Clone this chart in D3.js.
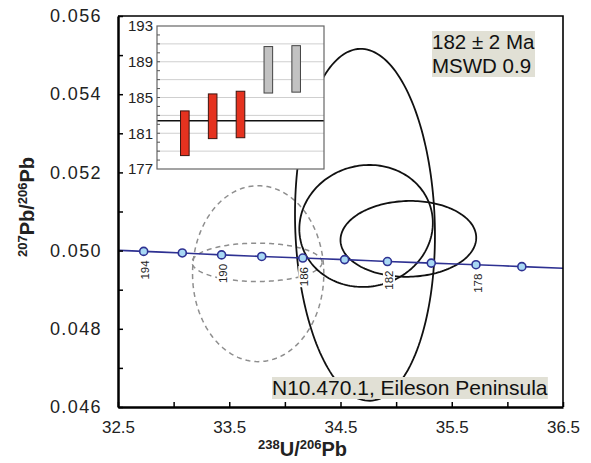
<!DOCTYPE html>
<html><head><meta charset="utf-8">
<script src="https://cdn.jsdelivr.net/npm/d3@7"></script>
<style>
html,body{margin:0;padding:0;background:#fff;}
svg{display:block;font-family:"Liberation Sans",Arial,Helvetica,sans-serif;}
</style></head><body>
<svg id="chart" width="591" height="463"></svg>
<script>
// ---- axes ----
const xDomain = [32.5, 36.5];
const yDomain = [0.046, 0.056];
const xTickValues = [32.5, 33, 33.5, 34, 34.5, 35, 35.5, 36, 36.5];
const xTickLabels = [32.5, 33.5, 34.5, 35.5, 36.5];
const yTickValues = [0.046, 0.047, 0.048, 0.049, 0.050, 0.051, 0.052, 0.053, 0.054, 0.055, 0.056];
const yTickLabels = [0.046, 0.048, 0.050, 0.052, 0.054, 0.056];

// ---- concordia (Tera-Wasserburg), age markers in Ma ----
const concordiaAges = [194, 192, 190, 188, 186, 184, 182, 180, 178, 176];
const concordiaX = [32.731, 33.078, 33.431, 33.792, 34.161, 34.537, 34.922, 35.316, 35.718, 36.130];
const concordiaY = [0.04998, 0.04994, 0.04989, 0.04985, 0.04981, 0.04977, 0.04972, 0.04968, 0.04964, 0.04959];
const concordiaLabelled = [194, 190, 186, 182, 178];
const concordiaEndX = [32.5, 36.5];
const concordiaEndY = [0.05001, 0.04955];

// ---- analyses: centre, 2-sigma half-widths, error correlation ----
const spotX   = [34.72, 34.73, 35.11, 33.76, 33.75];
const spotY   = [0.05066, 0.05063, 0.05030, 0.04941, 0.04970];
const spotErrX = [0.629, 0.60, 0.61, 0.59, 0.584];
const spotErrY = [0.00450, 0.00156, 0.00097, 0.00225, 0.00049];
const spotRho = [-0.06, 0.05, 0.03, 0.0, 0.0];
const spotUsed = [true, true, true, false, false];

// ---- inset: 206Pb/238U ages (Ma) with 2-sigma errors ----
const grainAge = [181.0, 182.9, 183.1, 188.1, 188.2];
const grainErr = [2.5, 2.5, 2.6, 2.6, 2.6];
const grainUsed = [true, true, true, false, false];
const meanAge = 182.4;
const insetDomain = [177, 193];
const insetLabels = [177, 181, 185, 189, 193];
const insetGrid = [179, 181, 183, 185, 187, 189, 191];
const insetMinor = [178, 179, 180, 181, 182, 183, 184, 185, 186, 187, 188, 189, 190, 191, 192];

const resultLines = ["182 \u00b1 2 Ma", "MSWD 0.9"];
const sampleLabel = "N10.470.1, Eileson Peninsula";

// ---------------------------------------------------------------
const svg = d3.select("#chart");
const P = {left: 118, top: 16, right: 563, bottom: 407};
const x = d3.scaleLinear().domain(xDomain).range([P.left, P.right]);
const y = d3.scaleLinear().domain(yDomain).range([P.bottom, P.top]);

svg.append("defs").append("clipPath").attr("id", "plotClip")
  .append("rect").attr("x", P.left).attr("y", P.top)
  .attr("width", P.right - P.left).attr("height", P.bottom - P.top);

const plot = svg.append("g").attr("clip-path", "url(#plotClip)");

// error ellipses
function ellipsePath(cx, cy, ex, ey, rho) {
  const s = Math.sqrt(1 - rho * rho);
  const pts = d3.range(0, 361, 2).map(d => {
    const t = d * Math.PI / 180;
    return [x(cx + ex * Math.cos(t)), y(cy + ey * (rho * Math.cos(t) + s * Math.sin(t)))];
  });
  return d3.line()(pts) + "Z";
}
const order = d3.range(spotX.length).sort((a, b) => (spotUsed[a] ? 1 : 0) - (spotUsed[b] ? 1 : 0));
plot.selectAll("path.ellipse").data(order).join("path")
  .attr("class", "ellipse")
  .attr("d", i => ellipsePath(spotX[i], spotY[i], spotErrX[i], spotErrY[i], spotRho[i]))
  .attr("fill", "none")
  .attr("stroke", i => spotUsed[i] ? "#111" : "#8e8e8e")
  .attr("stroke-width", i => spotUsed[i] ? 1.8 : 1.5)
  .attr("stroke-dasharray", i => spotUsed[i] ? null : "5,4");

// concordia curve
const curvePts = [[concordiaEndX[0], concordiaEndY[0]]]
  .concat(concordiaX.map((d, i) => [d, concordiaY[i]]))
  .concat([[concordiaEndX[1], concordiaEndY[1]]]);
plot.append("path")
  .attr("d", d3.line().x(d => x(d[0])).y(d => y(d[1])).curve(d3.curveMonotoneX)(curvePts))
  .attr("fill", "none").attr("stroke", "#2e3192").attr("stroke-width", 1.6);

plot.selectAll("circle.age").data(concordiaAges).join("circle")
  .attr("class", "age")
  .attr("cx", (d, i) => x(concordiaX[i])).attr("cy", (d, i) => y(concordiaY[i]))
  .attr("r", 4).attr("fill", "#a8d8f4").attr("stroke", "#2e3192").attr("stroke-width", 1.6);

// age labels, rotated, with white backing
concordiaAges.forEach((a, i) => {
  if (!concordiaLabelled.includes(a)) return;
  const g = plot.append("g")
    .attr("transform", `translate(${x(concordiaX[i]) + 1.5},${y(concordiaY[i]) + 9}) rotate(-90)`);
  const t = g.append("text").text(a)
    .attr("text-anchor", "end").attr("dominant-baseline", "central")
    .attr("font-size", 11.5).attr("fill", "#222");
  const b = t.node().getBBox();
  g.insert("rect", "text").attr("x", b.x - 1).attr("y", b.y).attr("width", b.width + 2)
    .attr("height", b.height).attr("fill", "#fff");
});

// ---- axes ----
const fmtX = d => xTickLabels.includes(d) ? d3.format(".1f")(d) : "";
const fmtY = d => yTickLabels.some(v => Math.abs(v - d) < 1e-9) ? d3.format(".3f")(d) : "";

const xAxis = svg.append("g").attr("transform", `translate(0,${P.bottom})`)
  .call(d3.axisBottom(x).tickValues(xTickValues).tickFormat(fmtX).tickSizeInner(-5).tickSizeOuter(0).tickPadding(14));
const yAxis = svg.append("g").attr("transform", `translate(${P.left},0)`)
  .call(d3.axisLeft(y).tickValues(yTickValues).tickFormat(fmtY).tickSizeInner(-5).tickSizeOuter(0).tickPadding(16));
[xAxis, yAxis].forEach(ax => {
  ax.select(".domain").attr("stroke", "#000").attr("stroke-width", 2.5);
  ax.selectAll(".tick line").attr("stroke", "#000").attr("stroke-width", 1.5);
  ax.selectAll(".tick text").attr("font-size", 17).attr("fill", "#222")
    .attr("font-family", "'Liberation Sans',Arial,sans-serif");
});
yAxis.selectAll(".tick text").attr("font-size", 18).attr("letter-spacing", 1.4);
// top and right frame
svg.append("path")
  .attr("d", `M${P.left},${P.top}H${P.right}V${P.bottom}`)
  .attr("fill", "none").attr("stroke", "#000").attr("stroke-width", 1.6);

// axis titles
const xt = svg.append("text").attr("x", (P.left + P.right) / 2 - 38).attr("y", 456)
  .attr("text-anchor", "middle").attr("font-weight", "bold").attr("fill", "#222");
xt.append("tspan").attr("font-size", 13).attr("dy", -7).text("238");
xt.append("tspan").attr("font-size", 20).attr("dy", 7).text("U/");
xt.append("tspan").attr("font-size", 13).attr("dy", -7).text("206");
xt.append("tspan").attr("font-size", 20).attr("dy", 7).text("Pb");

const yt = svg.append("text").attr("transform", "translate(34,207) rotate(-90)")
  .attr("text-anchor", "middle").attr("font-weight", "bold").attr("fill", "#222");
yt.append("tspan").attr("font-size", 13).attr("dy", -7).text("207");
yt.append("tspan").attr("font-size", 20).attr("dy", 7).text("Pb/");
yt.append("tspan").attr("font-size", 13).attr("dy", -7).text("206");
yt.append("tspan").attr("font-size", 20).attr("dy", 7).text("Pb");

// ---- inset age plot ----
const I = {left: 157, top: 26, right: 324, bottom: 169};
const iy = d3.scaleLinear().domain(insetDomain).range([I.bottom, I.top]);
const ix = d3.scaleLinear().domain([0, grainAge.length + 1]).range([I.left, I.right]);
const inset = svg.append("g");
inset.append("rect").attr("x", I.left).attr("y", I.top)
  .attr("width", I.right - I.left).attr("height", I.bottom - I.top)
  .attr("fill", "#fff");
inset.selectAll("line.grid").data(insetGrid).join("line").attr("class", "grid")
  .attr("x1", I.left).attr("x2", I.right).attr("y1", d => iy(d)).attr("y2", d => iy(d))
  .attr("stroke", "#cfcfcf").attr("stroke-width", 1);
inset.append("line").attr("x1", I.left).attr("x2", I.right)
  .attr("y1", iy(meanAge)).attr("y2", iy(meanAge))
  .attr("stroke", "#111").attr("stroke-width", 1.6);
inset.selectAll("rect.bar").data(grainAge).join("rect").attr("class", "bar")
  .attr("x", (d, i) => ix(i + 1) - 4.3).attr("width", 8.6)
  .attr("y", (d, i) => iy(d + grainErr[i]))
  .attr("height", (d, i) => iy(d - grainErr[i]) - iy(d + grainErr[i]))
  .attr("fill", (d, i) => grainUsed[i] ? "#e5321f" : "#c2c2c2")
  .attr("stroke", (d, i) => grainUsed[i] ? "#3b1510" : "#444").attr("stroke-width", 1);
inset.append("rect").attr("x", I.left).attr("y", I.top)
  .attr("width", I.right - I.left).attr("height", I.bottom - I.top)
  .attr("fill", "none").attr("stroke", "#666").attr("stroke-width", 1.2);
inset.selectAll("line.minor").data(insetMinor).join("line").attr("class", "minor")
  .attr("x1", I.left).attr("x2", I.left + 3).attr("y1", d => iy(d)).attr("y2", d => iy(d))
  .attr("stroke", "#555").attr("stroke-width", 1);
inset.selectAll("text.ilab").data(insetLabels).join("text").attr("class", "ilab")
  .attr("x", I.left - 4).attr("y", d => iy(d)).attr("dy", "0.36em")
  .attr("text-anchor", "end").attr("font-size", 15).attr("fill", "#222").text(d => d);

// ---- annotation boxes ----
function boxedText(lines, xLeft, yFirst, lineH, size, pad) {
  const g = svg.append("g");
  const t = g.append("text").attr("font-size", size).attr("fill", "#111");
  lines.forEach((s, k) => t.append("tspan").attr("x", xLeft).attr("y", yFirst + k * lineH).text(s));
  const b = t.node().getBBox();
  g.insert("rect", "text").attr("x", b.x - pad).attr("y", b.y + 1)
    .attr("width", b.width + 2 * pad).attr("height", b.height - 1).attr("fill", "#e1e0d5");
}
boxedText(resultLines, 432, 49, 24, 20.5, 0);
boxedText([sampleLabel], 272, 395, 24, 21, 0);
</script>
</body></html>
